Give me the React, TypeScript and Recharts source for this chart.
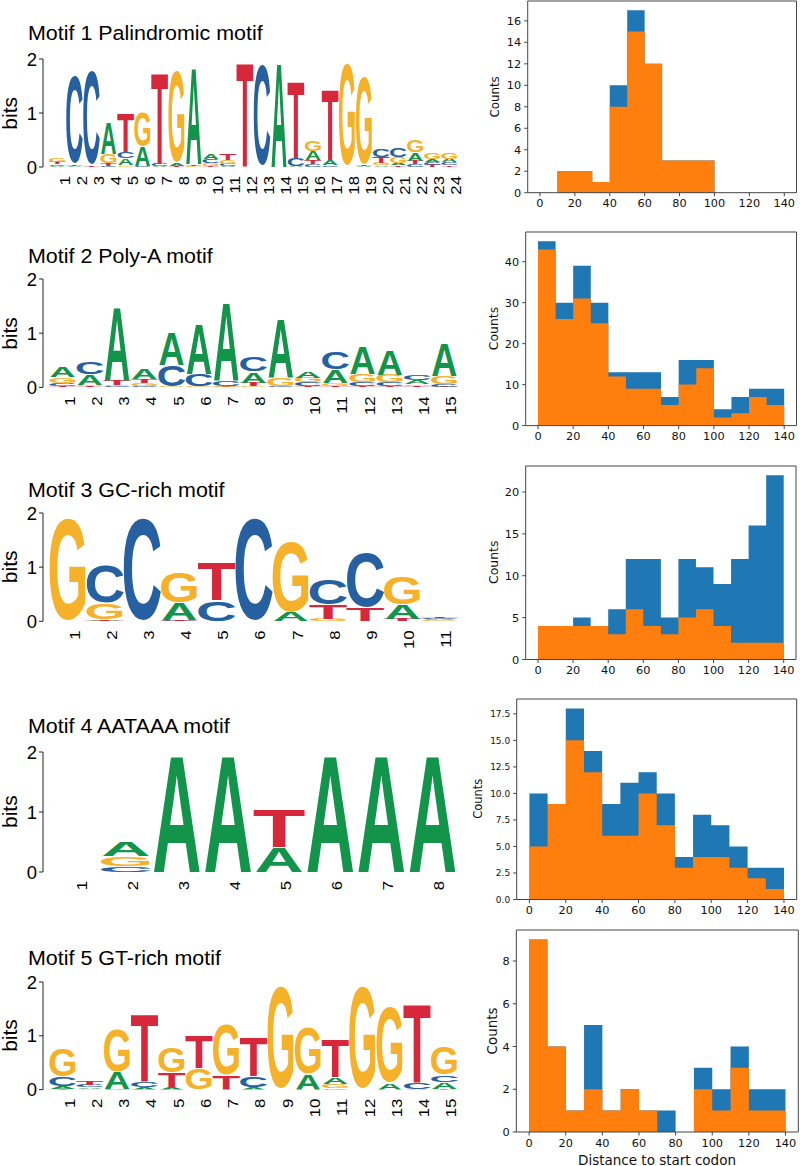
import React from 'react';
import { BarChart, Bar, XAxis, YAxis, AreaChart, Area } from 'recharts';

// ---------- Sequence logo data (letter, bits), bottom to top ----------
type Stack = [string, number][];

const motif1: Stack[] = [
  [['A', 0.02], ['C', 0.03], ['T', 0.04], ['G', 0.08]],
  [['A', 0.01], ['T', 0.03], ['C', 1.72]],
  [['T', 0.02], ['C', 1.85]],
  [['C', 0.02], ['T', 0.05], ['G', 0.18], ['A', 0.58]],
  [['G', 0.03], ['A', 0.13], ['C', 0.12], ['T', 0.74]],
  [['C', 0.01], ['A', 0.37], ['G', 0.68]],
  [['A', 0.02], ['C', 0.04], ['T', 1.72]],
  [['T', 0.02], ['A', 0.04], ['G', 1.8]],
  [['G', 0.02], ['T', 0.03], ['A', 1.81]],
  [['T', 0.02], ['G', 0.05], ['C', 0.07], ['A', 0.09]],
  [['A', 0.02], ['C', 0.04], ['G', 0.07], ['T', 0.12]],
  [['T', 1.98]],
  [['C', 1.98]],
  [['A', 1.98]],
  [['A', 0.02], ['C', 0.15], ['T', 1.45]],
  [['C', 0.05], ['T', 0.08], ['A', 0.17], ['G', 0.2]],
  [['C', 0.03], ['A', 0.1], ['T', 1.33]],
  [['G', 1.99]],
  [['A', 0.02], ['T', 0.02], ['G', 1.7]],
  [['A', 0.03], ['G', 0.04], ['T', 0.12], ['C', 0.16]],
  [['T', 0.03], ['A', 0.04], ['G', 0.12], ['C', 0.17]],
  [['C', 0.05], ['T', 0.07], ['A', 0.15], ['G', 0.23]],
  [['T', 0.04], ['C', 0.06], ['A', 0.04], ['G', 0.12]],
  [['T', 0.03], ['C', 0.06], ['A', 0.06], ['G', 0.12]],
];

const motif2: Stack[] = [
  [['T', 0.02], ['C', 0.06], ['G', 0.11], ['A', 0.2]],
  [['T', 0.02], ['G', 0.03], ['A', 0.2], ['C', 0.23]],
  [['C', 0.02], ['G', 0.03], ['T', 0.09], ['A', 1.37]],
  [['C', 0.03], ['G', 0.05], ['T', 0.07], ['A', 0.19]],
  [['G', 0.02], ['C', 0.4], ['A', 0.61]],
  [['G', 0.02], ['C', 0.22], ['A', 0.93]],
  [['T', 0.01], ['G', 0.01], ['C', 0.1], ['A', 1.47]],
  [['G', 0.02], ['T', 0.07], ['A', 0.2], ['C', 0.29]],
  [['C', 0.03], ['G', 0.15], ['A', 1.1]],
  [['T', 0.02], ['C', 0.07], ['G', 0.09], ['A', 0.13]],
  [['T', 0.02], ['G', 0.06], ['A', 0.25], ['C', 0.32]],
  [['T', 0.02], ['C', 0.07], ['G', 0.15], ['A', 0.52]],
  [['T', 0.02], ['C', 0.07], ['G', 0.14], ['A', 0.47]],
  [['T', 0.03], ['G', 0.03], ['A', 0.08], ['C', 0.11]],
  [['T', 0.01], ['C', 0.05], ['G', 0.15], ['A', 0.6]],
];

const motif3: Stack[] = [
  [['G', 1.99]],
  [['A', 0.01], ['T', 0.03], ['G', 0.3], ['C', 0.72]],
  [['C', 1.99]],
  [['C', 0.01], ['T', 0.02], ['A', 0.31], ['G', 0.6]],
  [['C', 0.39], ['T', 0.71]],
  [['C', 1.99]],
  [['A', 0.16], ['G', 1.37]],
  [['G', 0.05], ['T', 0.26], ['C', 0.48]],
  [['T', 0.25], ['C', 1.06]],
  [['T', 0.04], ['A', 0.26], ['G', 0.55]],
  [['G', 0.02], ['A', 0.02], ['C', 0.03], ['T', 0.03]],
];

const motif4: Stack[] = [
  [],
  [['C', 0.1], ['G', 0.16], ['A', 0.24]],
  [['A', 2.0]],
  [['A', 2.0]],
  [['A', 0.41], ['T', 0.65]],
  [['A', 2.0]],
  [['A', 2.0]],
  [['A', 2.0]],
];

const motif5: Stack[] = [
  [['T', 0.02], ['A', 0.04], ['C', 0.18], ['G', 0.55]],
  [['G', 0.02], ['A', 0.03], ['C', 0.04], ['T', 0.07]],
  [['C', 0.02], ['A', 0.31], ['G', 0.83]],
  [['A', 0.04], ['C', 0.1], ['T', 1.28]],
  [['A', 0.05], ['T', 0.26], ['G', 0.49]],
  [['G', 0.41], ['T', 0.62]],
  [['T', 0.27], ['G', 0.99]],
  [['A', 0.05], ['C', 0.21], ['T', 0.75]],
  [['G', 1.99]],
  [['A', 0.29], ['G', 0.91]],
  [['C', 0.03], ['G', 0.08], ['A', 0.13], ['T', 0.71]],
  [['G', 1.99]],
  [['A', 0.12], ['G', 1.48]],
  [['A', 0.01], ['C', 0.13], ['T', 1.47]],
  [['T', 0.01], ['A', 0.12], ['C', 0.14], ['G', 0.55]],
];

const motifTitles = [
  'Motif 1 Palindromic motif',
  'Motif 2 Poly-A motif',
  'Motif 3 GC-rich motif',
  'Motif 4 AATAAA motif',
  'Motif 5 GT-rich motif',
];

const logoTicks = [0, 1, 2];

// ---------- Histogram data (bins of 10 from 0 to 140) ----------
const binEdges = [0, 10, 20, 30, 40, 50, 60, 70, 80, 90, 100, 110, 120, 130, 140];
const histTicksX = [0, 20, 40, 60, 80, 100, 120, 140];

const hist1Blue = [0, 2, 2, 1, 10, 17, 12, 3, 3, 3, 0, 0, 0, 0];
const hist1Orange = [0, 2, 2, 1, 8, 15, 12, 3, 3, 3, 0, 0, 0, 0];
const hist2Blue = [45, 30, 39, 30, 13, 13, 13, 7, 16, 16, 4, 7, 9, 9];
const hist2Orange = [43, 26, 31, 25, 12, 9, 9, 5, 10, 14, 2, 3, 7, 5];
const hist3Blue = [4, 4, 5, 4, 6, 12, 12, 5, 12, 11, 9, 12, 16, 22];
const hist3Orange = [4, 4, 4, 4, 3, 6, 4, 3, 5, 6, 4, 2, 2, 2];
const hist4Blue = [10, 9, 18, 14, 9, 11, 12, 10, 4, 8, 7, 5, 3, 3];
const hist4Orange = [5, 9, 15, 12, 6, 6, 10, 7, 3, 4, 4, 3, 2, 1];
const hist5Blue = [9, 4, 1, 5, 1, 2, 1, 1, 0, 3, 2, 4, 2, 2];
const hist5Orange = [9, 4, 1, 2, 1, 2, 1, 0, 0, 2, 1, 3, 1, 1];

const hist1YTicks = [0, 2, 4, 6, 8, 10, 12, 14, 16];
const hist2YTicks = [0, 10, 20, 30, 40];
const hist3YTicks = [0, 5, 10, 15, 20];
const hist4YTicks = [0, 2.5, 5, 7.5, 10, 12.5, 15, 17.5];
const hist5YTicks = [0, 2, 4, 6, 8];

// ---------- Styles ----------
const LETTER_COLORS: Record<string, string> = {
  A: '#12944a',
  C: '#2660a0',
  G: '#f6b12b',
  T: '#d7283b',
};
// glyph bounding boxes (font units /1000): xMin, xMax, yMin, yMax
const GLYPH_BOX: Record<string, number[]> = {
  A: [0, 719, 0, 716],
  C: [44, 681, -19, 735],
  G: [44, 729, -19, 735],
  T: [21, 589, 0, 716],
};
const LOGO_FONT = '"Liberation Sans", Arial, Helvetica, sans-serif';
const MPL_FONT = '"DejaVu Sans", sans-serif';
const BLUE = '#1f77b4';
const ORANGE = '#ff7f0e';
const FRAME = '#444';

const Letter = (props: any) => {
  const { x, y, width, height, letter } = props;
  if (!letter || !(height > 0.05) || !(width > 0)) return <g />;
  const [x0, x1, y0, y1] = GLYPH_BOX[letter];
  const sx = width / ((x1 - x0) * 0.1);
  const sy = height / ((y1 - y0) * 0.1);
  const tx = x - x0 * 0.1 * sx;
  const ty = y + height + y0 * 0.1 * sy;
  return (
    <g transform={`translate(${tx},${ty})`}>
      <g transform={`scale(${sx},${sy})`}>
        <text
          x={0}
          y={0}
          fontSize={100}
          fontFamily={LOGO_FONT}
          fontWeight={700}
          fill={LETTER_COLORS[letter]}
        >
          {letter}
        </text>
      </g>
    </g>
  );
};

function buildLogoRows(motif: Stack[]) {
  return motif.map((stack, i) => {
    const row: any = { pos: String(i + 1) };
    for (let k = 0; k < 4; k++) {
      row[`h${k}`] = stack[k] ? stack[k][1] : 0;
      row[`c${k}`] = stack[k] ? stack[k][0] : '';
    }
    return row;
  });
}

const LogoTick = (p: any) => {
  const cx = Number(p.x) || 0;
  const label = p.payload ? p.payload.value : '';
  return (
    <g transform={`translate(${cx + 12},${p.baseY + 9})`}>
      <g transform="rotate(-90)">
        <g transform="scale(1.2,1)">
          <text x={0} y={0} textAnchor="end" fontSize={14} fontFamily={LOGO_FONT} fill="#000">
            {label}
          </text>
        </g>
      </g>
    </g>
  );
};

const LogoChart = ({ motif, y2, y0 }: { motif: Stack[]; y2: number; y0: number }) => {
  const mt = 12;
  const plotH = y0 - y2;
  const xh = 45;
  const H = mt + plotH + xh;
  const data = buildLogoRows(motif);
  const baseY = mt + plotH;
  return (
    <div style={{ position: 'absolute', left: 0, top: y2 - mt, width: 470, height: H }}>
      <BarChart
        width={470}
        height={H}
        data={data}
        margin={{ top: mt, right: 12, bottom: 0, left: 0 }}
        barCategoryGap="2%"
      >
        <XAxis
          dataKey="pos"
          axisLine={false}
          tickLine={false}
          height={xh}
          interval={0}
          padding={{ left: 6, right: 0 }}
          tick={(p: any) => <LogoTick {...p} baseY={baseY} />}
        />
        <YAxis
          domain={[0, 2]}
          ticks={logoTicks}
          width={43}
          tickSize={4}
          tickMargin={2}
          axisLine={{ stroke: '#222' }}
          tickLine={{ stroke: '#222' }}
          tick={{ fontSize: 18.5, fill: '#000', fontFamily: LOGO_FONT }}
          allowDataOverflow
        />
        {[0, 1, 2, 3].map((k) => (
          <Bar
            key={k}
            dataKey={`h${k}`}
            stackId="s"
            isAnimationActive={false}
            shape={(p: any) => <Letter {...p} letter={p.payload ? p.payload[`c${k}`] : ''} />}
          />
        ))}
      </BarChart>
    </div>
  );
};

const HistChart = ({
  blue,
  orange,
  PL,
  PR,
  PT,
  PB,
  ymax,
  yticks,
  yFont,
  fmt,
}: {
  blue: number[];
  orange: number[];
  PL: number;
  PR: number;
  PT: number;
  PB: number;
  ymax: number;
  yticks: number[];
  yFont: number;
  fmt?: (v: number) => string;
}) => {
  const mt = 9;
  const xh = 26;
  const H = mt + (PB - PT) + xh;
  const data = binEdges.map((x, i) => ({
    x,
    blue: blue[Math.min(i, blue.length - 1)],
    orange: orange[Math.min(i, orange.length - 1)],
  }));
  const yAxisW = PL - 470;
  return (
    <div style={{ position: 'absolute', left: 470, top: PT - mt, width: 330, height: H }}>
      <AreaChart
        width={330}
        height={H}
        data={data}
        margin={{ top: mt - 1, right: 800 - PR - 1, bottom: 0, left: 0 }}
      >
        <XAxis
          dataKey="x"
          type="number"
          domain={[-7, 147]}
          ticks={histTicksX}
          allowDataOverflow
          height={xh}
          tickSize={3.5}
          tickMargin={3}
          axisLine={{ stroke: FRAME }}
          tickLine={{ stroke: FRAME }}
          tick={{ fontSize: 11.3, fill: '#111', fontFamily: MPL_FONT }}
        />
        <XAxis
          xAxisId="top"
          orientation="top"
          dataKey="x"
          type="number"
          domain={[-7, 147]}
          allowDataOverflow
          height={1}
          tick={false}
          tickLine={false}
          axisLine={{ stroke: FRAME }}
        />
        <YAxis
          type="number"
          domain={[0, ymax]}
          ticks={yticks}
          allowDataOverflow
          width={yAxisW}
          tickSize={3.5}
          tickMargin={3}
          axisLine={{ stroke: FRAME }}
          tickLine={{ stroke: FRAME }}
          tickFormatter={fmt}
          tick={{ fontSize: yFont, fill: '#111', fontFamily: MPL_FONT }}
        />
        <YAxis
          yAxisId="right"
          orientation="right"
          type="number"
          domain={[0, ymax]}
          allowDataOverflow
          width={1}
          tick={false}
          tickLine={false}
          axisLine={{ stroke: FRAME }}
        />
        <Area
          type="stepAfter"
          dataKey="blue"
          fill={BLUE}
          fillOpacity={1}
          stroke="none"
          isAnimationActive={false}
          dot={false}
          activeDot={false}
        />
        <Area
          type="stepAfter"
          dataKey="orange"
          fill={ORANGE}
          fillOpacity={1}
          stroke="none"
          isAnimationActive={false}
          dot={false}
          activeDot={false}
        />
      </AreaChart>
    </div>
  );
};

const logoRows = [
  { motif: motif1, title: 40, y2: 59.3, y0: 167.3 },
  { motif: motif2, title: 263, y2: 279.3, y0: 387.7 },
  { motif: motif3, title: 496.7, y2: 512.7, y0: 621 },
  { motif: motif4, title: 733, y2: 751.7, y0: 871.7 },
  { motif: motif5, title: 965, y2: 981.7, y0: 1089.3 },
];

const histRows = [
  { blue: hist1Blue, orange: hist1Orange, PL: 527.7, PR: 796.5, PT: 1, PB: 192.7, ymax: 17.85, yticks: hist1YTicks, yFont: 11.3, labelX: 495, labelFont: 11.8 },
  { blue: hist2Blue, orange: hist2Orange, PL: 525.7, PR: 796.5, PT: 231.7, PB: 425.3, ymax: 47.25, yticks: hist2YTicks, yFont: 11.3, labelX: 493, labelFont: 12.4 },
  { blue: hist3Blue, orange: hist3Orange, PL: 525.7, PR: 796, PT: 465.5, PB: 659, ymax: 23.1, yticks: hist3YTicks, yFont: 11.3, labelX: 493, labelFont: 12.4 },
  { blue: hist4Blue, orange: hist4Orange, PL: 516.7, PR: 796.7, PT: 698.5, PB: 899, ymax: 18.9, yticks: hist4YTicks, yFont: 9, labelX: 478, labelFont: 11.5, fmt: (v: number) => v.toFixed(1) },
  { blue: hist5Blue, orange: hist5Orange, PL: 516.3, PR: 798.3, PT: 930, PB: 1132, ymax: 9.45, yticks: hist5YTicks, yFont: 11.3, labelX: 492, labelFont: 13.4 },
];

export default function App() {
  return (
    <div
      style={{
        position: 'absolute',
        left: 0,
        top: 0,
        width: 800,
        height: 1166,
        background: '#fff',
        overflow: 'hidden',
      }}
    >
      {logoRows.map((r, i) => (
        <LogoChart key={`logo${i}`} motif={r.motif} y2={r.y2} y0={r.y0} />
      ))}
      {histRows.map((h, i) => (
        <HistChart
          key={`hist${i}`}
          blue={h.blue}
          orange={h.orange}
          PL={h.PL}
          PR={h.PR}
          PT={h.PT}
          PB={h.PB}
          ymax={h.ymax}
          yticks={h.yticks}
          yFont={h.yFont}
          fmt={(h as any).fmt}
        />
      ))}
      <svg
        width={800}
        height={1166}
        style={{ position: 'absolute', left: 0, top: 0, pointerEvents: 'none' }}
      >
        {logoRows.map((r, i) => (
          <g key={`lt${i}`}>
            <g transform={`translate(28,${r.title}) scale(1.1,1)`}>
              <text x={0} y={0} fontSize={19.5} fontFamily={LOGO_FONT} fill="#000">
                {motifTitles[i]}
              </text>
            </g>
            <g transform={`translate(17,${(r.y0 + r.y2) / 2}) rotate(-90)`}>
              <text x={0} y={0} textAnchor="middle" fontSize={21} fontFamily={LOGO_FONT} fill="#000">
                bits
              </text>
            </g>
          </g>
        ))}
        {histRows.map((h, i) => (
          <g key={`hl${i}`} transform={`translate(${h.labelX},${(h.PT + h.PB) / 2}) rotate(-90)`}>
            <text
              x={0}
              y={0}
              textAnchor="middle"
              dominantBaseline="central"
              fontSize={h.labelFont}
              fontFamily={MPL_FONT}
              fill="#111"
            >
              Counts
            </text>
          </g>
        ))}
        <text x={657} y={1164.5} textAnchor="middle" fontSize={13.5} fontFamily={MPL_FONT} fill="#111">
          Distance to start codon
        </text>
      </svg>
    </div>
  );
}
